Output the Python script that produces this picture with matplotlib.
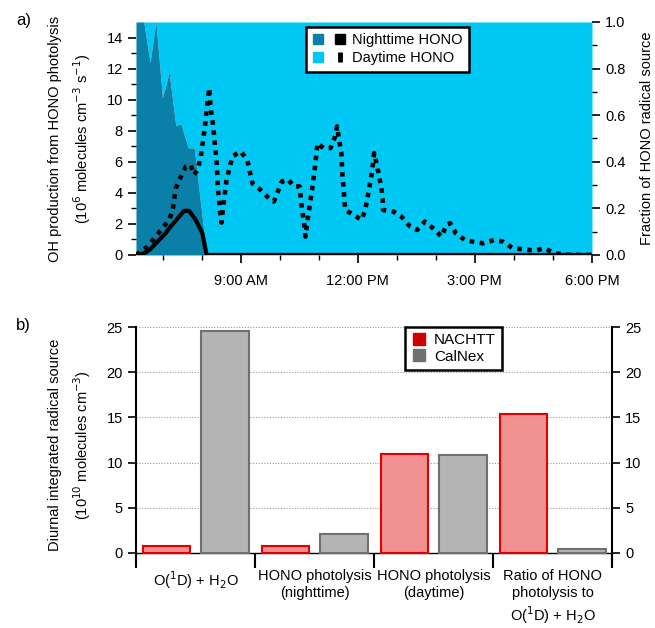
import numpy as np
import matplotlib
matplotlib.use("Agg")
import matplotlib.pyplot as plt
from matplotlib.lines import Line2D
from matplotlib.legend_handler import HandlerTuple

plt.rcParams['font.family'] = ['Liberation Sans', 'DejaVu Sans']
plt.rcParams['font.size'] = 10.5

# ---- panel a data (time in decimal hours) ----
frac_t = [6.32, 6.52, 6.68, 6.83, 7.0, 7.17, 7.34, 7.47, 7.66, 7.81, 8.13, 18.0]
night_frac = [1.0, 1.0, 0.825, 1.0, 0.675, 0.784, 0.555, 0.563, 0.46, 0.46, 0.0, 0.0]

night_t = [6.32, 6.53, 6.70, 6.87, 7.04, 7.21, 7.39, 7.55, 7.68, 7.85, 8.02, 8.13, 18.0]
night_oh = [0.0, 0.1, 0.4, 0.86, 1.29, 1.83, 2.37, 2.84, 2.84, 2.26, 1.40, 0.0, 0.0]

day_t = [6.32, 6.6, 6.96, 7.17, 7.26, 7.34, 7.47, 7.6, 7.72, 7.81, 7.9, 7.98, 8.06,
         8.1, 8.13, 8.17, 8.2, 8.23, 8.28, 8.34, 8.39, 8.42, 8.45, 8.47, 8.51, 8.57,
         8.64, 8.79, 9.0, 9.17, 9.3, 9.51, 9.72, 9.85, 10.06, 10.21, 10.36, 10.51,
         10.57, 10.62, 10.66, 10.74, 10.83, 10.91, 10.97, 11.12, 11.3, 11.42, 11.47,
         11.53, 11.58, 11.61, 11.64, 11.68, 11.89, 12.1, 12.19, 12.25, 12.3, 12.36,
         12.42, 12.49, 12.55, 12.61, 12.64, 12.65, 12.91, 13.12, 13.34, 13.52, 13.72,
         13.93, 14.15, 14.27, 14.37, 14.51, 14.74, 14.95, 15.2, 15.5, 15.72, 15.97,
         16.23, 16.53, 16.78, 17.04, 17.34, 17.68, 18.0]
day_oh = [0.0, 0.5, 1.6, 2.26, 2.9, 4.3, 5.05, 5.7, 5.8, 5.16, 5.48, 6.34, 7.74,
          8.6, 9.35, 10.2, 10.75, 9.46, 8.7, 7.2, 5.8, 4.2, 3.5, 2.8, 2.08, 3.44,
          4.84, 6.34, 6.67, 6.13, 4.62, 4.19, 3.66, 3.44, 4.73, 4.88, 4.41, 4.41,
          3.0, 2.15, 1.18, 2.69, 4.19, 5.8, 7.2, 6.88, 6.88, 7.63, 8.28,
          7.31, 6.56, 5.05, 4.19, 2.9, 2.58, 2.26, 2.9, 3.66, 4.41, 5.27,
          6.56, 5.8, 5.05, 4.19, 3.55, 2.9, 2.8, 2.47, 1.83, 1.61, 2.15,
          1.72, 1.18, 1.94, 2.04, 1.4, 0.97, 0.86, 0.75, 0.97, 0.86, 0.43,
          0.37, 0.28, 0.43, 0.11, 0.02, 0.0, 0.0]

time_ticks = [9, 12, 15, 18]
time_labels = ['9:00 AM', '12:00 PM', '3:00 PM', '6:00 PM']

# ---- panel b data ----
categories = ['O($^1$D) + H$_2$O', 'HONO photolysis\n(nighttime)',
              'HONO photolysis\n(daytime)', 'Ratio of HONO\nphotolysis to\nO($^1$D) + H$_2$O']
nachtt = [0.72, 0.72, 11.0, 15.4]
calnex = [24.55, 2.05, 10.85, 0.4]

dark_blue = '#0a7fa8'
light_blue = '#00c8f5'

fig = plt.figure(figsize=(6.55, 6.28), dpi=100)

# ================= panel a =================
ax = fig.add_axes([0.2076, 0.594, 0.6962, 0.371])
ax2 = ax.twinx()
ax2.fill_between(frac_t, night_frac, 1.0, color=light_blue, lw=0)
ax2.fill_between(frac_t, 0, night_frac, color=dark_blue, lw=0)
ax2.set_ylim(0, 1.0)
ax2.set_yticks(np.arange(0, 1.01, 0.2))
ax2.set_yticklabels(['%.1f' % v for v in np.arange(0, 1.01, 0.2)])
ax2.set_yticks(np.arange(0.1, 1.0, 0.2), minor=True)
ax2.set_ylabel('Fraction of HONO radical source', labelpad=10)

ax.set_zorder(ax2.get_zorder() + 1)
ax.patch.set_visible(False)
ax.plot(day_t, day_oh, color='black', lw=3.3, ls=(0, (1, 1.2)), dash_capstyle='butt')
ax.plot(night_t, night_oh, color='black', lw=3.0)
ax.set_xlim(6.32, 18.0)
ax.set_ylim(0, 15)
ax.set_yticks(range(0, 15, 2))
ax.set_yticks(range(1, 15, 2), minor=True)
ax.set_xticks(time_ticks)
ax.set_xticklabels(time_labels)
ax.set_xticks(range(7, 18), minor=True)
ax.set_ylabel('OH production from HONO photolysis\n(10$^6$ molecules cm$^{-3}$ s$^{-1}$)',
              labelpad=10, linespacing=1.5)
for a in (ax, ax2):
    for s in a.spines.values():
        s.set_visible(False)
    a.tick_params(which='major', length=6, width=1.2, direction='out')
    a.tick_params(which='minor', length=3.5, width=1.0, direction='out')
ax.tick_params(axis='x', pad=8)

h_night = (Line2D([], [], marker='s', ls='', color=dark_blue, ms=7),
           Line2D([], [], marker='s', ls='', color='black', ms=7))
h_day = (Line2D([], [], marker='s', ls='', color=light_blue, ms=7),
         Line2D([], [], marker='|', ls='', color='black', ms=7, mew=3.5))
leg = ax.legend([h_night, h_day], ['Nighttime HONO', 'Daytime HONO'],
                handler_map={tuple: HandlerTuple(ndivide=None, pad=0.8)},
                loc='upper left', bbox_to_anchor=(0.373, 0.979), borderaxespad=0,
                handlelength=2.2, handletextpad=0.5, borderpad=0.45, labelspacing=0.25,
                fancybox=False, framealpha=1, edgecolor='black')
leg.get_frame().set_linewidth(1.8)

fig.text(0.025, 0.96, 'a)', fontsize=12)

# ================= panel b =================
bx = fig.add_axes([0.2076, 0.1029, 0.7268, 0.3759])
x = np.arange(len(categories))
bx.bar(x + 0.255, nachtt, width=0.40, color='#f09090', edgecolor='#e00000', lw=1.5, zorder=3)
bx.bar(x + 0.75, calnex, width=0.40, color='#b4b4b4', edgecolor='#707070', lw=1.5, zorder=3)
bx.set_xlim(0, 4)
bx.set_ylim(-1.19, 25)
bx.set_yticks(range(0, 26, 5))
bx.yaxis.grid(True, ls=(0, (1, 1.5)), color='#999999', lw=0.8)
bx.set_axisbelow(True)
bx.spines['top'].set_visible(False)
bx.spines['bottom'].set_position(('data', 0))
bx.spines['bottom'].set_linewidth(1.0)
bx.spines['left'].set_linewidth(1.5)
bx.spines['right'].set_linewidth(1.5)
bx.set_xticks(range(0, 5))
bx.set_xticklabels([])
bx.set_xticks(x + 0.5, minor=True)
bx.set_xticklabels(categories, minor=True, linespacing=1.25)
bx.tick_params(axis='x', which='major', length=10.7, width=1.5, direction='out')
bx.tick_params(axis='x', which='minor', length=0, pad=12)
bx.tick_params(axis='y', which='major', length=6, width=1.2, direction='out',
               right=True, labelright=True)
bx.set_ylabel('Diurnal integrated radical source\n(10$^{10}$ molecules cm$^{-3}$)',
              labelpad=10, linespacing=1.5)

hb = [Line2D([], [], marker='s', ls='', color='#d00000', ms=9),
      Line2D([], [], marker='s', ls='', color='#707070', ms=9)]
leg2 = bx.legend(hb, ['NACHTT', 'CalNex'], loc='upper left', bbox_to_anchor=(0.565, 1.0),
                 borderaxespad=0, handlelength=1.0, handletextpad=0.5, borderpad=0.4,
                 labelspacing=0.15, fancybox=False, framealpha=1, edgecolor='black',
                 fontsize=11)
leg2.get_frame().set_linewidth(1.8)

fig.text(0.025, 0.475, 'b)', fontsize=12)

fig.savefig('out.png', dpi=100)
